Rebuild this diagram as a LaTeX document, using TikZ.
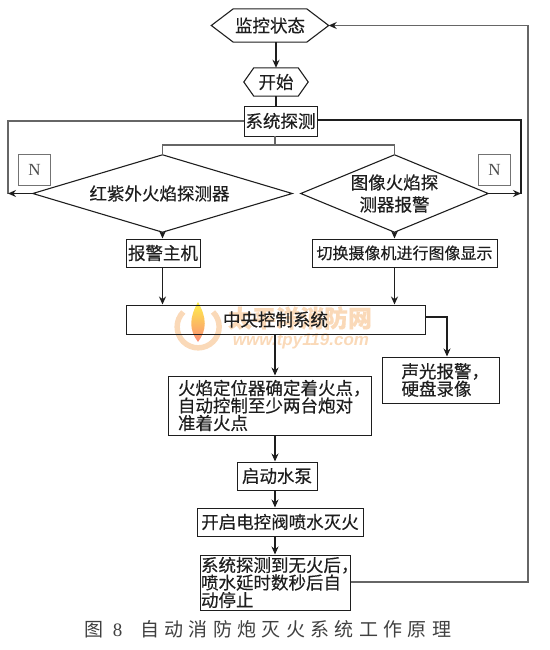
\documentclass[tikz,border=0pt]{standalone}
\usepackage{fontspec}
\setmainfont[FakeBold=0.4]{Noto Sans CJK SC}
\newfontfamily\latinserif{Liberation Serif}
\newfontfamily\wmlatin{Liberation Sans}
\newfontfamily\capfont[LetterSpace=28]{Noto Sans CJK SC}
\usetikzlibrary{arrows.meta}
\definecolor{ink}{HTML}{1E1E1E}
\definecolor{wm}{HTML}{FAD9B8}
\newcommand{\halfcomma}{\makebox[8bp][l]{，}}
\tikzset{
  lineink/.style={draw=ink,line width=1.1pt},
  thinline/.style={draw=black!60,line width=1.2pt},
  thickline/.style={draw=ink,line width=1.5pt},
  arrowline/.style={lineink,-{Stealth[length=8bp,width=7bp]}},
  boxnode/.style={draw=ink,line width=1pt,inner sep=0pt,text=ink,align=center,font=\fontsize{17.5bp}{17.5bp}\selectfont},
  listnode/.style={boxnode,align=left},
  plainnode/.style={inner sep=0pt,text=ink,align=center,font=\fontsize{17.5bp}{22bp}\selectfont},
  nnode/.style={draw=black!55,line width=.8pt,inner sep=0pt,minimum width=32bp,minimum height=31bp,text=black!70,font=\latinserif\fontsize{17bp}{17bp}\selectfont}
}
\lineskiplimit=-100pt
\begin{document}
\begin{tikzpicture}[x=1bp,y=-1bp]
\useasboundingbox (0,0) rectangle (550,650);
% watermark
\draw[wm,line width=5.5pt] (213,312) arc [start angle=-45,end angle=225,radius=21];
\shade[top color=yellow!60!wm,bottom color=red!35!wm] (198,302) .. controls (207,318) and (207,330) .. (198,342) .. controls (189,330) and (189,318) .. (198,302) -- cycle;
\node[text=wm,inner sep=0pt,font=\bfseries\fontsize{24bp}{24bp}\selectfont] (wmtitle) at (300,318) {太平洋消防网};
\node[text=wm,inner sep=0pt,font=\wmlatin\bfseries\itshape\fontsize{17bp}{17bp}\selectfont] (wmurl) at (301,341) {www.tpy119.com};
% hexagons
\node[plainnode,minimum width=117bp,minimum height=33bp] (watch) at (270,25.5) {监控状态};
\draw[lineink] (watch.west) -- ([xshift=22bp]watch.north west) -- ([xshift=-22bp]watch.north east) -- (watch.east) -- ([xshift=-22bp]watch.south east) -- ([xshift=22bp]watch.south west) -- cycle;
\node[plainnode,minimum width=64bp,minimum height=28bp] (start) at (276,82) {开始};
\draw[lineink] (start.west) -- ([xshift=10bp]start.north west) -- ([xshift=-10bp]start.north east) -- (start.east) -- ([xshift=-10bp]start.south east) -- ([xshift=10bp]start.south west) -- cycle;
% detect box
\node[boxnode,minimum width=73bp,minimum height=30bp] (detect) at (280.5,121) {系统探测};
% diamonds
\node[plainnode,minimum width=259bp,minimum height=77bp] (dleft) at (162.5,193.5) {\hspace*{-6bp}红紫外火焰探测器};
\draw[lineink] (dleft.west) -- (dleft.north) -- (dleft.east) -- (dleft.south) -- cycle;
\node[plainnode,minimum width=187bp,minimum height=77bp] (dright) at (394.5,193.5) {图像火焰探\\测器报警};
\draw[lineink] (dright.west) -- (dright.north) -- (dright.east) -- (dright.south) -- cycle;
\node[nnode] (nleft) at (34.5,169.5) {N};
\node[nnode] (nright) at (494.5,169.5) {N};
% boxes
\node[boxnode,minimum width=74bp,minimum height=28bp] (host) at (163,253) {报警主机};
\node[boxnode,minimum width=185bp,minimum height=28bp,font=\fontsize{16bp}{16bp}\selectfont] (camera) at (404.5,253) {切换摄像机进行图像显示};
\node[boxnode,minimum width=299bp,minimum height=29bp] (central) at (275.5,319.5) {中央控制系统};
\node[listnode,minimum width=117bp,minimum height=46bp] (sound) at (440.5,380) {声光报警\halfcomma\\硬盘录像};
\node[listnode,minimum width=203bp,minimum height=59bp] (locate) at (269.5,405.5) {火焰定位器确定着火点\halfcomma\\自动控制至少两台炮对\\准着火点};
\node[boxnode,minimum width=80bp,minimum height=28bp] (pump) at (277,476) {启动水泵};
\node[boxnode,minimum width=166bp,minimum height=28bp] (valve) at (280,522) {开启电控阀喷水灭火};
\node[listnode,minimum width=150bp,minimum height=55bp] (stop) at (275,582.5) {系统探测到无火后\halfcomma\\喷水延时数秒后自\\动停止};
\node[inner sep=0pt,text=black!75,font=\capfont\fontsize{19bp}{19bp}\selectfont] (caption) at (268,629) {图\hspace{9bp}{\latinserif 8}\hspace{18bp}自动消防炮灭火系统工作原理};
% junctions
\coordinate (jleft) at (8,121);
\coordinate (jright) at (521,120);
\coordinate (jbranch) at (275,145);
\coordinate (jback) at (528,582);
% connectors
\draw[arrowline,line width=1.5pt] (watch.south -| start) -- (start.north);
\draw[lineink] (start.south) -- (start.south |- detect.north);
\draw[thinline] (detect.west) -- (jleft) -- (jleft |- dleft.west);
\draw[thickline] (detect.east |- jright) -- (jright) -- (jright |- dright.east);
\draw[arrowline] (dleft.west) -- (jleft |- dleft.west);
\draw[arrowline] (dright.east) -- (jright |- dright.east);
\draw[thinline] (jbranch |- detect.south) -- (jbranch);
\draw[thinline] (dleft.north) -- (dleft.north |- jbranch) -- (dright.north |- jbranch) -- (dright.north);
\draw[arrowline] (dleft.south) -- (dleft.south |- host.north);
\draw[arrowline] (dright.south) -- (dright.south |- camera.north);
\draw[arrowline] (dleft.south |- host.south) -- (dleft.south |- central.north);
\draw[arrowline] (dright.south |- camera.south) -- (dright.south |- central.north);
\coordinate (jsound) at (447,317);
\draw[arrowline] (central.east |- jsound) -- (jsound) -- (jsound |- sound.north);
\draw[arrowline] (jbranch |- central.south) -- (jbranch |- locate.north);
\draw[arrowline] (jbranch |- locate.south) -- (jbranch |- pump.north);
\draw[arrowline] (jbranch |- pump.south) -- (jbranch |- valve.north);
\draw[arrowline] (jbranch |- valve.south) -- (jbranch |- stop.north);
\draw[thinline,-{Stealth[length=8bp,width=7bp,color=ink]}] (stop.east |- jback) -- (jback) -- (jback |- watch.east) -- (watch.east);
\end{tikzpicture}
\end{document}
